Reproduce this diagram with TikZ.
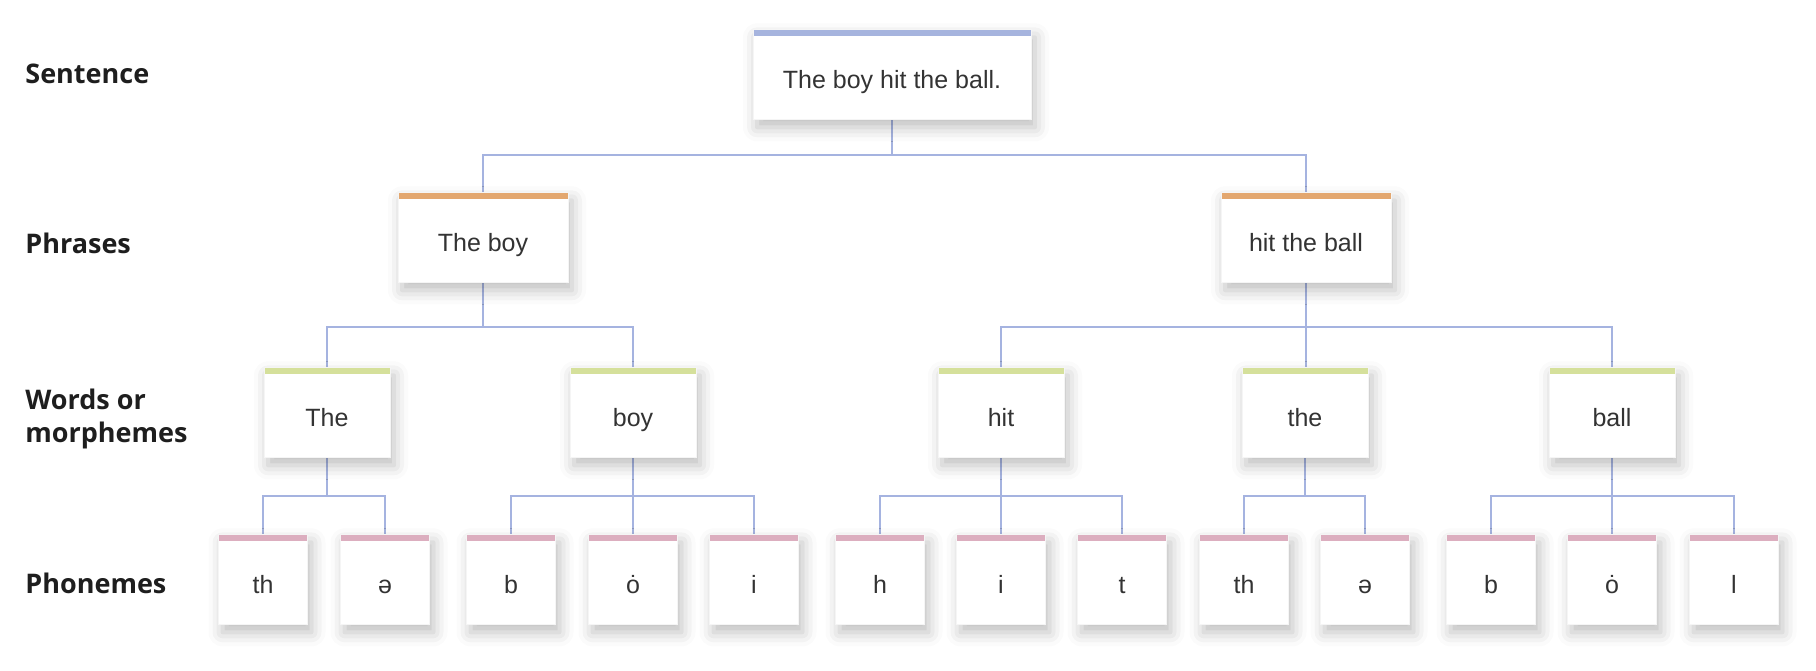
\documentclass[tikz,border=0pt]{standalone}
\usepackage{fontspec}
\setmainfont{Liberation Sans}
\newfontfamily\labelfont{Open Sans}
\usetikzlibrary{shadows.blur}
\definecolor{conn}{HTML}{A5B3E0}
\definecolor{barS}{HTML}{A6B4DE}
\definecolor{barP}{HTML}{E3A76F}
\definecolor{barW}{HTML}{D5E09B}
\definecolor{barF}{HTML}{DCAEBF}
\definecolor{txt}{HTML}{333333}
\definecolor{lab}{HTML}{1E1E1E}
\begin{document}
\begin{tikzpicture}[x=0.5pt,y=-0.5pt,
  box/.style={fill=white, draw=black!4, line width=0.3pt,
    blur shadow={shadow xshift=2pt, shadow yshift=-4pt, shadow blur radius=7pt, shadow opacity=26},
    minimum height=45pt, inner sep=0pt, text height=14pt, text depth=0pt,
    font=\fontsize{12.5}{15}\selectfont, text=txt, anchor=north,
    path picture={\fill[#1] (path picture bounding box.north west) rectangle ([yshift=-3.2pt]path picture bounding box.north east);}},
  sbox/.style={box=barS, minimum width=139pt},
  pbox/.style={box=barP, minimum width=85pt},
  wbox/.style={box=barW, minimum width=63pt},
  fbox/.style={box=barF, minimum width=44.5pt},
  connector/.style={draw=conn, line width=1.4pt},
  lvl/.style={font=\labelfont\bfseries\fontsize{13.5}{16.5}\selectfont, text=lab, anchor=base west, align=left, inner sep=0pt}
]
\useasboundingbox (0,0) rectangle (1816,670);

% level labels
\node[lvl] (Lsent) at (25,83) {Sentence};
\node[lvl] (Lphr) at (25,253) {Phrases};
\node[lvl] (Lword) at (25,442) {Words or\\morphemes};
\node[lvl] (Lphon) at (25,593) {Phonemes};

% junction coordinates
\coordinate (j0) at (892,155);
\coordinate (j1) at (483,327);
\coordinate (j2) at (1306,327);
\coordinate (k1) at (327,496);
\coordinate (k2) at (633,496);
\coordinate (k3) at (1001,496);
\coordinate (k4) at (1305,496);
\coordinate (k5) at (1612,496);

% connectors (drawn first, boxes on top)
\draw[connector] (892,118) -- (j0);
\draw[connector] (483,200) |- (j0) -| (1306,200);
\draw[connector] (483,280) -- (j1);
\draw[connector] (1306,280) -- (j2);
\draw[connector] (327,375) |- (j1) -| (633,375);
\draw[connector] (1001,375) |- (j2) -| (1612,375);
\draw[connector] (j2) -- (1306,375);
\draw[connector] (327,450) -- (k1);
\draw[connector] (633,450) -- (k2);
\draw[connector] (1001,450) -- (k3);
\draw[connector] (1305,450) -- (k4);
\draw[connector] (1612,450) -- (k5);
\draw[connector] (263,540) |- (k1) -| (385,540);
\draw[connector] (511,540) |- (k2) -| (754,540);
\draw[connector] (k2) -- (633,540);
\draw[connector] (880,540) |- (k3) -| (1122,540);
\draw[connector] (k3) -- (1001,540);
\draw[connector] (1244,540) |- (k4) -| (1365,540);
\draw[connector] (1491,540) |- (k5) -| (1734,540);
\draw[connector] (k5) -- (1612,540);

% sentence
\node[sbox] (S) at (892,29) {The boy hit the ball.};
% phrases
\node[pbox] (P1) at (483,192) {The boy};
\node[pbox] (P2) at (1306,192) {hit the ball};
% words
\node[wbox] (W1) at (327,367) {The};
\node[wbox] (W2) at (633,367) {boy};
\node[wbox] (W3) at (1001,367) {hit};
\node[wbox] (W4) at (1305,367) {the};
\node[wbox] (W5) at (1612,367) {ball};
% phonemes
\node[fbox] (F1) at (263,534) {th};
\node[fbox] (F2) at (385,534) {ə};
\node[fbox] (F3) at (511,534) {b};
\node[fbox] (F4) at (633,534) {ȯ};
\node[fbox] (F5) at (754,534) {i};
\node[fbox] (F6) at (880,534) {h};
\node[fbox] (F7) at (1001,534) {i};
\node[fbox] (F8) at (1122,534) {t};
\node[fbox] (F9) at (1244,534) {th};
\node[fbox] (F10) at (1365,534) {ə};
\node[fbox] (F11) at (1491,534) {b};
\node[fbox] (F12) at (1612,534) {ȯ};
\node[fbox] (F13) at (1734,534) {l};
\end{tikzpicture}
\end{document}
